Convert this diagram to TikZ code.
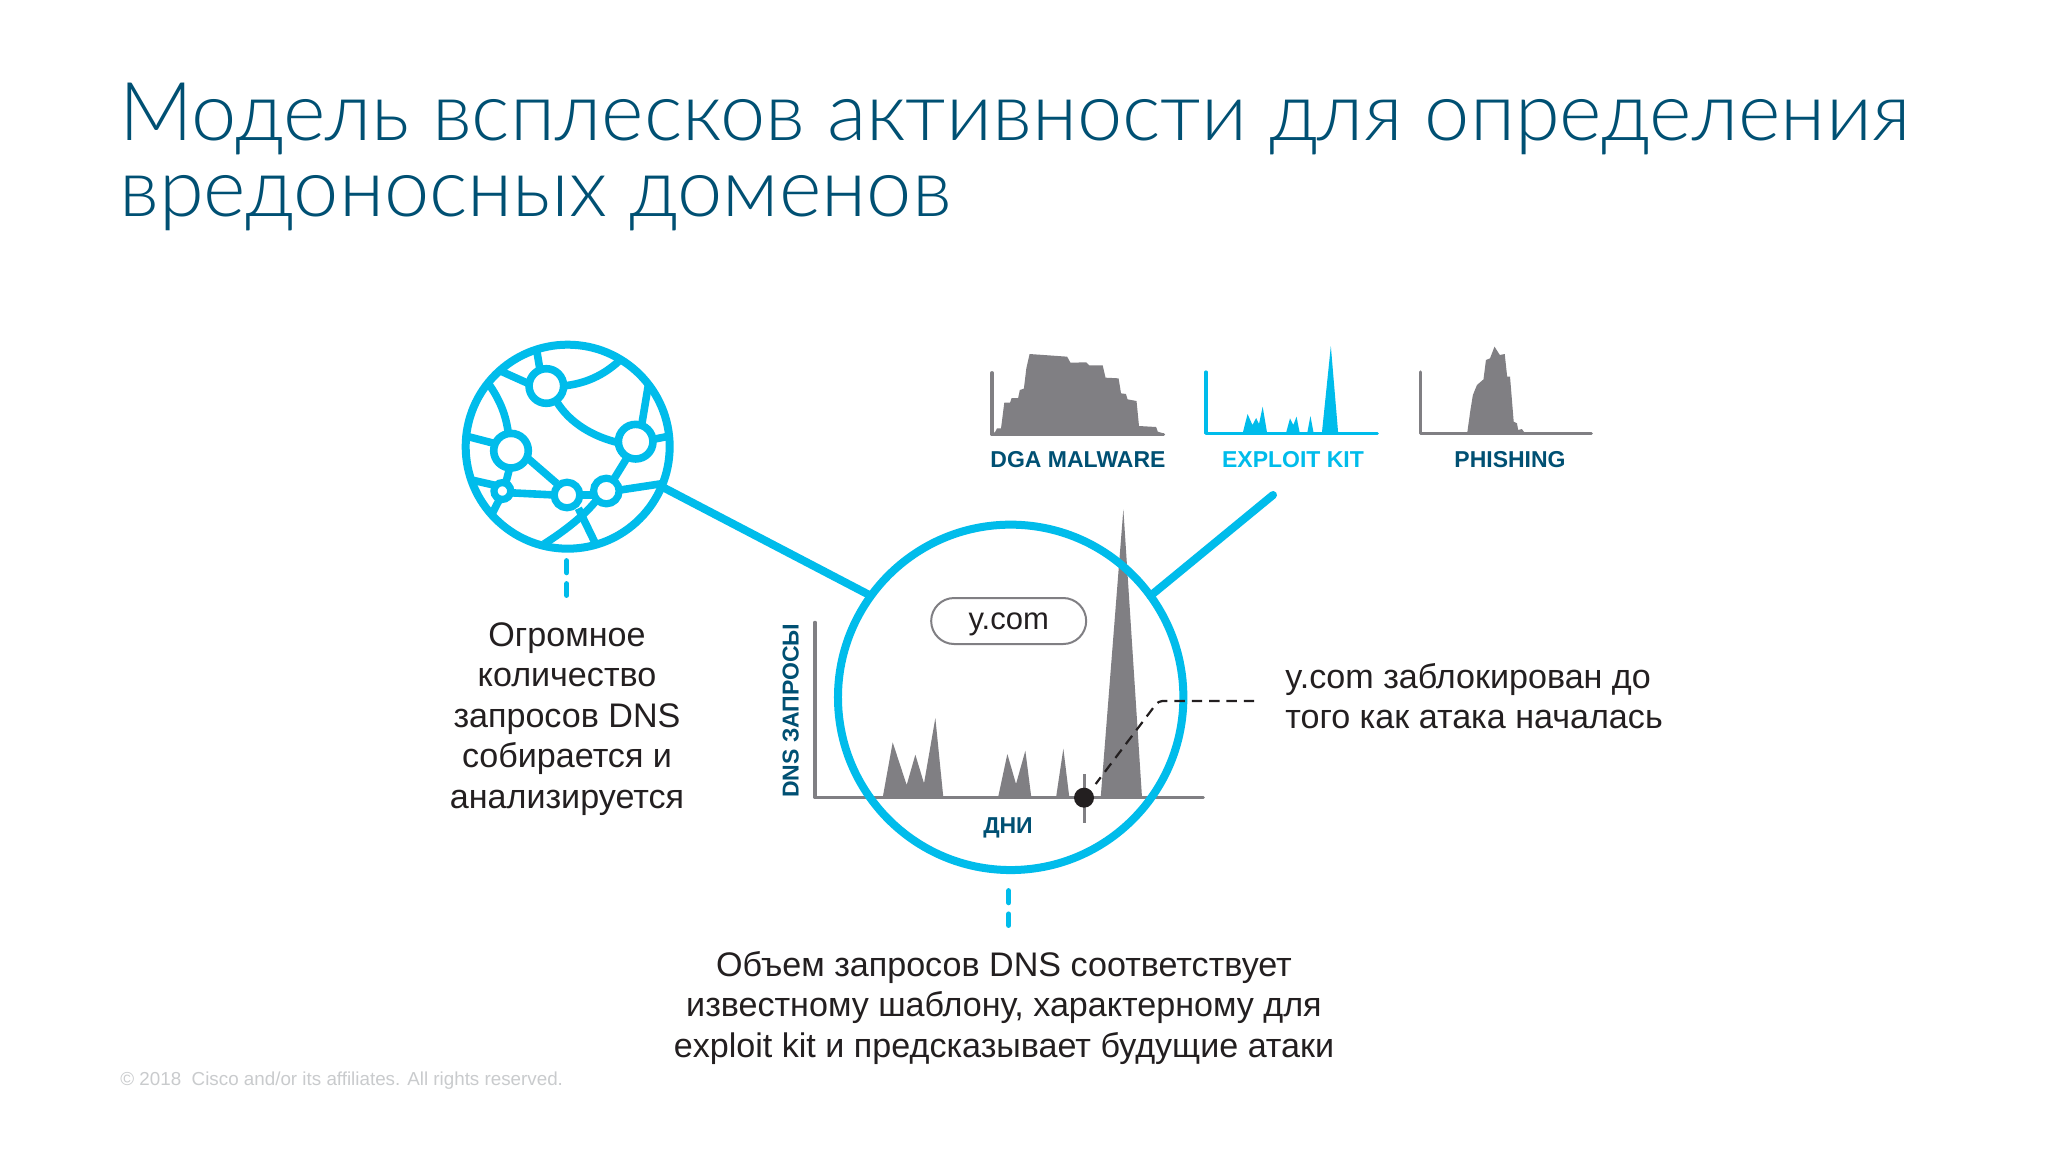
\documentclass[tikz,border=0pt]{standalone}
\usepackage{fontspec}
\setmainfont{Liberation Sans}
\newfontfamily\titlefont{Lato Light}
\definecolor{cblue}{HTML}{00BCEB}
\definecolor{cdark}{HTML}{005073}
\definecolor{cgray}{HTML}{807F83}
\definecolor{cink}{HTML}{231F20}
\definecolor{clight}{HTML}{C9CBCD}
\tikzset{
  bluestroke/.style={draw=cblue,line width=4pt},
  glink/.style={draw=cblue,line width=3.8pt},
  hub/.style={circle,draw=cblue,fill=white,line width=#1,inner sep=0pt,outer sep=0pt},
  bigring/.style={circle,draw=cblue,line width=4pt,inner sep=0pt,outer sep=0pt},
  axisline/.style={draw=#1,line width=1.6pt,line cap=round,line join=round},
  bluedash/.style={draw=cblue,line width=2.6pt,line cap=round},
  bodytext/.style={font=\fontsize{17.05}{20.3}\selectfont,text=cink,align=center,inner sep=0pt},
  chartlabel/.style={font=\fontsize{11.5}{14}\selectfont\bfseries,inner sep=0pt},
  zoomA/.style={shift={(440,320)},x=0.16667pt,y=-0.16667pt},
  zoomB/.style={shift={(970,330)},x=0.20408pt,y=-0.16667pt},
  zoomC/.style={shift={(770,500)},x=0.16667pt,y=-0.16667pt},
}
\begin{document}
\begin{tikzpicture}[x=0.5pt,y=-0.5pt]
\useasboundingbox (0,0) rectangle (2048,1152);
\fill[white] (0,0) rectangle (2048,1152);

% title
\node[anchor=base west,inner sep=0pt,text=cdark,font=\titlefont\fontsize{40.6}{38}\selectfont] (title1) at (119,140) {Модель всплесков активности для определения};
\node[anchor=base west,inner sep=0pt,text=cdark,font=\titlefont\fontsize{40.6}{38}\selectfont] (title2) at (119,216) {вредоносных доменов};

% globe
\begin{scope}[zoomA]
  \begin{scope}[every path/.style={glink,line cap=butt}]
  \draw (290,90) -- (300,150);
  \draw (175,150) -- (275,195);
  \draw (370,198) .. controls (440,190) and (490,165) .. (535,125);
  \draw (350,245) .. controls (390,310) and (460,350) .. (535,368);
  \draw (625,195) -- (605,315);
  \draw (640,358) -- (680,350);
  \draw (145,190) .. controls (180,240) and (198,285) .. (205,340);
  \draw (85,350) -- (170,372);
  \draw (210,440) -- (197,490);
  \draw (95,480) -- (170,497);
  \draw (180,535) -- (158,578);
  \draw (205,518) -- (345,525);
  \draw (260,412) -- (350,490);
  \draw (420,525) -- (460,525);
  \draw (560,415) -- (520,480);
  \draw (540,510) -- (672,490);
  \draw (312,672) .. controls (370,635) and (430,590) .. (470,540);
  \draw (415,565) -- (465,668);
  \end{scope}
  \node[hub=3.8pt,minimum size=17.3pt] (hubA) at (319,198) {};
  \node[hub=3.8pt,minimum size=17.3pt] (hubB) at (587,365) {};
  \node[hub=3.8pt,minimum size=17.3pt] (hubC) at (213,392) {};
  \node[hub=3.6pt,minimum size=8.4pt] (hubD) at (187,513) {};
  \node[hub=3.6pt,minimum size=12.8pt] (hubE) at (381,525) {};
  \node[hub=3.6pt,minimum size=12.8pt] (hubF) at (499,513) {};
  \node[bigring,minimum size=102pt] (globe) at (383,380) {};
  \coordinate (dashA1) at (380,722); \coordinate (dashA2) at (380,758);
  \coordinate (dashA3) at (380,791); \coordinate (dashA4) at (380,826);
\end{scope}
\draw[bluedash] (dashA1) -- (dashA2);
\draw[bluedash] (dashA3) -- (dashA4);

% mini charts
\begin{scope}[zoomB]
  \fill[cgray] (54,314) -- (62,305) -- (66,295) -- (76,295) -- (84,218) -- (98,218) -- (102,204) -- (118,204) -- (122,180) -- (132,176) -- (138,115) -- (146,72) -- (238,80) -- (246,98) -- (285,97) -- (292,106) -- (325,106) -- (332,143) -- (364,145) -- (370,190) -- (382,192) -- (386,208) -- (408,213) -- (414,288) -- (456,291) -- (460,305) -- (474,310) -- (474,314) -- cycle;
  \draw[axisline=cgray] (54,128) -- (54,314) -- (474,314);
  \fill[cblue] (668,310) -- (680,252) -- (692,285) -- (701,264) -- (708,282) -- (717,230) -- (728,310) -- cycle;
  \fill[cblue] (774,310) -- (784,265) -- (792,285) -- (800,260) -- (808,310) -- cycle;
  \fill[cblue] (826,310) -- (834,258) -- (842,310) -- cycle;
  \fill[cblue] (862,310) -- (884,48) -- (902,310) -- cycle;
  \draw[axisline=cblue] (578,126) -- (578,310) -- (998,310);
  \fill[cgray] (1218,310) -- (1226,240) -- (1232,195) -- (1242,165) -- (1258,148) -- (1264,90) -- (1274,85) -- (1285,50) -- (1298,75) -- (1310,72) -- (1316,140) -- (1323,140) -- (1332,275) -- (1340,280) -- (1343,300) -- (1352,297) -- (1360,310) -- cycle;
  \draw[axisline=cgray] (1103,126) -- (1103,310) -- (1522,310);
\end{scope}
\node[chartlabel,text=cdark] (lblDGA) at (1078,460) {DGA MALWARE};
\node[chartlabel,text=cblue] (lblEK) at (1293,460) {EXPLOIT KIT};
\node[chartlabel,text=cdark] (lblPH) at (1510,460) {PHISHING};

% main chart
\begin{scope}[zoomC]
  \fill[cgray] (338,893) -- (368,727) -- (410,855) -- (436,764) -- (462,850) -- (496,654) -- (520,893) -- cycle;
  \fill[cgray] (684,893) -- (712,762) -- (738,852) -- (766,752) -- (784,893) -- cycle;
  \fill[cgray] (858,893) -- (880,746) -- (898,893) -- cycle;
  \fill[cgray] (992,893) -- (1060,28) -- (1116,893) -- cycle;
  \draw[axisline=cgray] (135,367) -- (135,893) -- (1300,893);
  \node[bigring,minimum size=172.7pt] (ring) at (722,592) {};
  \draw[cgray,line width=1.5pt] (942,822) -- (942,968);
  \node[circle,fill=cink,minimum size=10pt,inner sep=0pt,outer sep=0pt] (dot) at (942,893) {};
  \coordinate (bend) at (1165,603);
  \coordinate (leadEnd) at (1470,603);
  \draw[cink,line width=1.1pt,dash pattern=on 5.2pt off 3.47pt,dash phase=1pt,rounded corners=2pt] (977,852) -- (bend) -- (leadEnd);
  \node[draw=cgray,line width=1pt,rounded corners=11.5pt,minimum width=77.5pt,minimum height=23pt,inner sep=0pt,font=\fontsize{15.5}{18}\selectfont,text=cink] (pill) at (716,363) {\raisebox{-4pt}[0pt][0pt]{y.com}};
  \node[font=\fontsize{11.5}{14}\selectfont\bfseries,text=cdark,inner sep=0pt] (days) at (714,983) {ДНИ};
  \node[font=\fontsize{11.5}{14}\selectfont\bfseries,text=cdark,inner sep=0pt,rotate=90] (dnsq) at (62,632) {DNS ЗАПРОСЫ};
  \coordinate (dashB1) at (716,1172); \coordinate (dashB2) at (716,1208);
  \coordinate (dashB3) at (716,1242); \coordinate (dashB4) at (716,1276);
\end{scope}
\draw[bluedash] (dashB1) -- (dashB2);
\draw[bluedash] (dashB3) -- (dashB4);

% connectors
\coordinate (ekEnd) at (1273,495);
\draw[bluestroke] (globe.-23) -- (ring.144.4);
\draw[bluestroke,line cap=round] (ekEnd) -- (ring.36.3);

% texts
\node[bodytext] (txtGlobe) at (567,719) {Огромное\\количество\\запросов DNS\\собирается и\\анализируется};
\node[bodytext,align=left,anchor=west] (txtBlock) at (1285,696) {y.com заблокирован до\\того как атака началась};
\node[bodytext] (txtBottom) at (1004,1008) {Объем запросов DNS соответствует\\известному шаблону, характерному для\\exploit kit и предсказывает будущие атаки};
\node[anchor=base west,inner sep=0pt,text=clight,font=\fontsize{9.4}{10}\selectfont] (copy) at (120,1085) {© 2018\ \ Cisco and/or its affiliates. All rights reserved.};
\end{tikzpicture}
\end{document}
